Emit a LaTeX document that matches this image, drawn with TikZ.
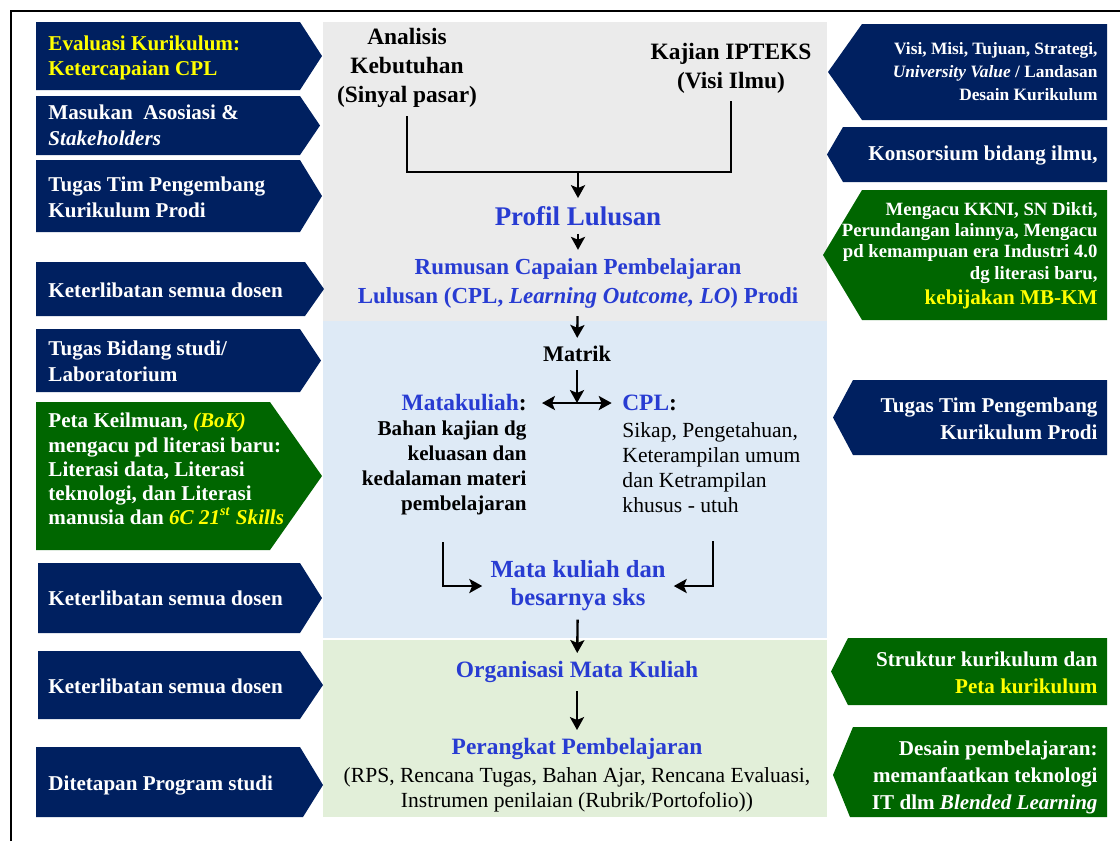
\documentclass[tikz,border=0pt]{standalone}
\usepackage{fontspec}
\setmainfont{Liberation Serif}
\usepackage{xcolor}
\usetikzlibrary{arrows,arrows.meta}
\definecolor{navybox}{RGB}{0,32,96}
\definecolor{greenbox}{RGB}{0,102,0}
\definecolor{hiyellow}{RGB}{255,255,0}
\definecolor{titleblue}{RGB}{40,60,210}
\definecolor{panelgray}{RGB}{235,235,235}
\definecolor{panelblue}{RGB}{222,234,246}
\definecolor{panelgreen}{RGB}{226,239,217}
\newcommand{\setfs}[2]{\fontsize{#1}{#2}\selectfont}

\begin{document}
\begin{tikzpicture}[x=0.015cm,y=-0.015cm]
		\tikzset{flow/.style = {line width=1pt}}
		\tikzset{tip/.tip = {Stealth[length=5.5pt,width=6pt,inset=1.2pt]}}
		\tikzset{edge/.style = {flow, -tip}}
		\tikzset{lbox/.style = {font=\setfs{9}{11}\bfseries, text=white, anchor=west, align=left, inner sep=0pt}}
		\tikzset{rbox/.style = {font=\setfs{9}{11.3}\bfseries, text=white, anchor=east, align=right, inner sep=0pt}}
		\tikzset{headtext/.style = {font=\setfs{10}{12.4}\bfseries, align=center}}
		\tikzset{titletext/.style = {font=\setfs{10}{12.4}\bfseries, text=titleblue, align=center}}
		\tikzset{bodytext/.style = {font=\setfs{9}{10.7}\bfseries, inner sep=0pt}}
		\tikzset{plaintext/.style = {font=\setfs{9.2}{10.7}, inner sep=0pt}}

		\useasboundingbox (0,0) rectangle (1120,841);

		% panels
		\fill[panelgray] (323,22) rectangle (827,321);
		\fill[panelblue] (323,321) rectangle (827,638);
		\fill[panelgreen] (323,640) rectangle (827,817);

		% frame
		\draw[line width=0.7pt] (11,841) -- (11,11) -- (1120,11);

		% left column
		\fill[navybox] (36,22) -- (300,22) -- (322,56) -- (300,90) -- (36,90) -- cycle;
		\fill[navybox] (36,96) -- (300,96) -- (320,125.5) -- (300,155) -- (36,155) -- cycle;
		\fill[navybox] (36,160) -- (300,160) -- (322,196) -- (300,232) -- (36,232) -- cycle;
		\fill[navybox] (36,262) -- (305,262) -- (324,289) -- (305,316) -- (36,316) -- cycle;
		\fill[navybox] (36,329) -- (300,329) -- (321,360.5) -- (300,392) -- (36,392) -- cycle;
		\fill[greenbox] (36,402) -- (270,402) -- (322,476) -- (270,550) -- (36,550) -- cycle;
		\fill[navybox] (38,563) -- (300,563) -- (322,598) -- (300,633) -- (38,633) -- cycle;
		\fill[navybox] (38,651) -- (300,651) -- (323,685) -- (300,719) -- (38,719) -- cycle;
		\fill[navybox] (36,747) -- (300,747) -- (323,785) -- (303,817) -- (36,817) -- cycle;

		\node[lbox, text=hiyellow] (evaluasi) at (48,58) {Evaluasi Kurikulum:\\Ketercapaian CPL};
		\node[lbox] (masukan) at (48,125) {Masukan\ \ Asosiasi \&\\\textit{Stakeholders}};
		\node[lbox] (tugastim) at (48,197) {Tugas Tim Pengembang\\Kurikulum Prodi};
		\node[lbox] (libatA) at (48,290) {Keterlibatan semua dosen};
		\node[lbox] (bidang) at (48,361) {Tugas Bidang studi/\\Laboratorium};
		\node[lbox, font=\setfs{9}{10.3}\bfseries] (petakeil) at (48,469) {Peta Keilmuan, \textcolor{hiyellow}{\textit{(BoK)}}\\mengacu pd literasi baru:\\Literasi data, Literasi\\teknologi, dan Literasi\\manusia dan \textcolor{hiyellow}{\textit{6C 21\textsuperscript{st} Skills}}};
		\node[lbox] (libatB) at (48,598) {Keterlibatan semua dosen};
		\node[lbox] (libatC) at (48,686) {Keterlibatan semua dosen};
		\node[lbox] (tetap) at (48,785) {Ditetapan Program studi};

		% right column
		\fill[navybox] (1107,24) -- (862,24) -- (828,72) -- (862,120) -- (1107,120) -- cycle;
		\fill[navybox] (1107,127) -- (843,127) -- (827,154.5) -- (843,182) -- (1107,182) -- cycle;
		\fill[greenbox] (1107,190) -- (862,190) -- (823,255) -- (862,320) -- (1107,320) -- cycle;
		\fill[navybox] (1107,380) -- (853,380) -- (833,417.5) -- (853,455) -- (1107,455) -- cycle;
		\fill[greenbox] (1107,638) -- (848,638) -- (831,671.5) -- (848,705) -- (1107,705) -- cycle;
		\fill[greenbox] (1107,727) -- (853,727) -- (833,775) -- (850,817) -- (1107,817) -- cycle;

		\node[rbox, font=\setfs{7.4}{9.8}\bfseries] (visi) at (1098,72) {Visi, Misi, Tujuan, Strategi,\\\textit{University Value} / Landasan\\Desain Kurikulum};
		\node[rbox] (konsorsium) at (1098,155) {Konsorsium bidang ilmu,};
		\node[rbox, font=\setfs{8}{9}\bfseries] (kkni) at (1098,256) {Mengacu KKNI, SN Dikti,\\Perundangan lainnya, Mengacu\\pd kemampuan era Industri 4.0\\dg literasi baru,\\[2pt]{\setfs{9}{11}\textcolor{hiyellow}{kebijakan MB-KM}}};
		\node[rbox] (tugaskanan) at (1098,419) {Tugas Tim Pengembang\\Kurikulum Prodi};
		\node[rbox] (struktur) at (1098,673) {Struktur kurikulum dan\\\textcolor{hiyellow}{Peta kurikulum}};
		\node[rbox, font=\setfs{9}{11.5}\bfseries] (desain) at (1098,777) {Desain pembelajaran:\\memanfaatkan teknologi\\IT dlm \textit{Blended Learning}};

		% centre flow
		\node[headtext] (analisis) at (407,68) {Analisis\\Kebutuhan\\(Sinyal pasar)};
		\node[headtext] (kajian) at (731,68) {Kajian IPTEKS\\(Visi Ilmu)};
		\coordinate (join) at (578,172);
		\node[titletext, font=\setfs{11.5}{14}\bfseries] (profil) at (578,216) {Profil Lulusan};
		\node[titletext, font=\setfs{9.8}{12.4}\bfseries] (rumusan) at (578,283) {Rumusan Capaian Pembelajaran\\Lulusan (CPL, \textit{Learning Outcome, LO}) Prodi};
		\node[headtext, font=\setfs{9.5}{12}\bfseries] (matrik) at (577,354) {Matrik};
		\coordinate (split) at (577,403);
		\node[titletext, anchor=east] (matakuliah) at (535,403) {Matakuliah\textcolor{black}{:}};
		\node[titletext, anchor=west] (cplhead) at (614,403) {CPL\textcolor{black}{:}};
		\node[bodytext, anchor=east, align=right] (bahan) at (527,468) {Bahan kajian dg\\keluasan dan\\kedalaman materi\\pembelajaran};
		\node[plaintext, anchor=west, align=left] (cpldesc) at (622,468) {Sikap, Pengetahuan,\\Keterampilan umum\\dan Ketrampilan\\khusus - utuh};
		\node[titletext, font=\setfs{10.5}{12}\bfseries] (sks) at (578,586) {Mata kuliah dan\\besarnya sks};
		\coordinate (mkfoot) at (443,542);
		\coordinate (cplfoot) at (713,541);
		\node[titletext] (organisasi) at (577,672) {Organisasi Mata Kuliah};
		\node[titletext] (perangkat) at (577,749) {Perangkat Pembelajaran};
		\node[plaintext, align=center] (rps) at (577,790) {(RPS, Rencana Tugas, Bahan Ajar, Rencana Evaluasi,\\Instrumen penilaian (Rubrik/Portofolio))};

		\draw[flow] (analisis.south) |- (join) -| (kajian.south);
		\draw[edge] (join) to (profil);
		\draw[edge] (profil) to (rumusan);
		\draw[edge] (rumusan) to (matrik);
		\draw[edge] (matrik) to (split);
		\draw[flow, tip-tip, shorten <=3pt, shorten >=1pt] (matakuliah) to (cplhead);
		\draw[edge] (mkfoot) |- (sks);
		\draw[edge] (cplfoot) |- (sks);
		\draw[edge] (sks) to (organisasi);
		\draw[edge] (organisasi) to (perangkat);

	\end{tikzpicture}
\end{document}
